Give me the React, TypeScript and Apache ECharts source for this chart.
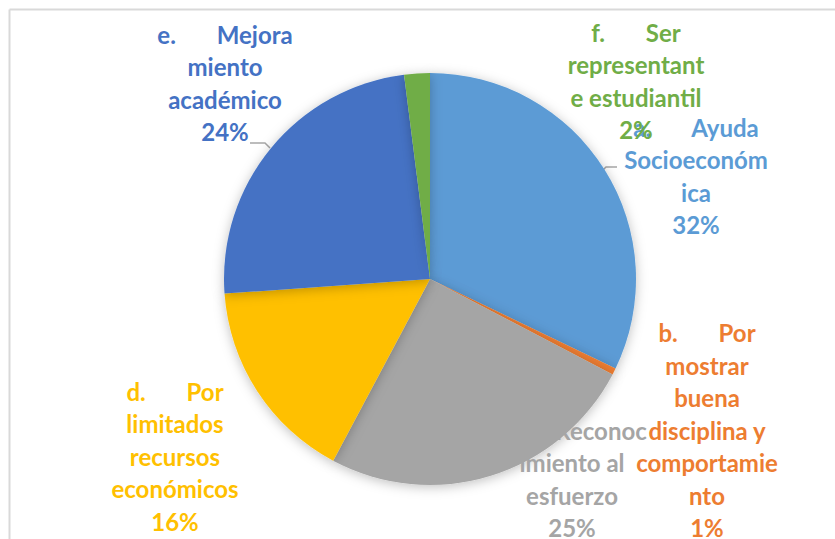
import React, { useEffect, useRef } from "react";
import * as echarts from "echarts";

const categories = [
  "a. Ayuda Socioeconómica",
  "b. Por mostrar buena disciplina y comportamiento",
  "c. Reconocimiento al esfuerzo",
  "d. Por limitados recursos económicos",
  "e. Mejoramiento académico",
  "f. Ser representante estudiantil",
];
const labelTexts = [
  "a.       Ayuda\nSocioeconóm\nica",
  "b.       Por\nmostrar\nbuena\ndisciplina y\ncomportamie\nnto",
  "c.       Reconoc\nimiento al\nesfuerzo",
  "d.       Por\nlimitados\nrecursos\neconómicos",
  "e.       Mejora\nmiento\nacadémico",
  "f.       Ser\nrepresentant\ne estudiantil",
];
const values = [32, 0.5, 25, 16, 24, 2];
const colors = ["#5B9BD5", "#ED7D31", "#A5A5A5", "#FFC000", "#4472C4", "#70AD47"];

// label block centers (layout)
const labelPos: [number, number][] = [
  [696, 176],
  [707, 430],
  [572, 479],
  [175, 456],
  [225, 83],
  [636, 81],
];
const leaderLines: Record<number, [number, number][]> = {
  0: [[602, 171], [606, 167], [617, 167]],
  4: [[270, 148], [265, 143], [250, 143]],
};

export default function App() {
  const ref = useRef<HTMLDivElement>(null);
  useEffect(() => {
    document.body.style.margin = "0";
    const chart = echarts.init(ref.current!, undefined, { renderer: "svg" });
    chart.setOption({
      animation: false,
      backgroundColor: "#ffffff",
      graphic: [
        { type: "line", shape: { x1: 9.5, y1: 9.5, x2: 835, y2: 9.5 }, style: { stroke: "#d9d9d9", lineWidth: 2 }, silent: true },
        { type: "line", shape: { x1: 9.5, y1: 9.5, x2: 9.5, y2: 539 }, style: { stroke: "#d9d9d9", lineWidth: 2 }, silent: true },
      ],
      series: [
        {
          type: "pie",
          center: [430, 279],
          radius: 206,
          startAngle: 90,
          clockwise: true,
          avoidLabelOverlap: false,
          itemStyle: {
            shadowBlur: 12,
            shadowColor: "rgba(0,0,0,0.25)",
            shadowOffsetY: 2,
          },
          label: {
            show: true,
            fontFamily: "Lato",
            fontWeight: "bold",
            fontSize: 24,
            lineHeight: 32.5,
            align: "center",
            formatter: (p: any) => `${labelTexts[p.dataIndex]}\n${Math.round(p.value)}%`,
          },
          labelLine: { show: false, lineStyle: { color: "#a6a6a6", width: 1.5 } },
          labelLayout: (p: any) => {
            const i = p.dataIndex;
            const o: any = { x: labelPos[i][0], y: labelPos[i][1], align: "center", verticalAlign: "middle" };
            if (leaderLines[i]) o.labelLinePoints = leaderLines[i];
            return o;
          },
          data: categories.map((name, i) => ({
            name,
            value: values[i],
            itemStyle: { color: colors[i] },
            label: { color: colors[i] },
            labelLine: { show: !!leaderLines[i] },
          })),
        },
      ],
    });
    return () => chart.dispose();
  }, []);
  return <div ref={ref} style={{ width: 835, height: 539 }} />;
}
